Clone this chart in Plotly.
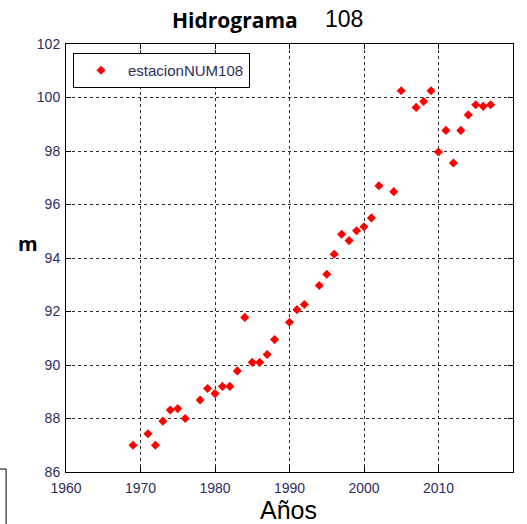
import plotly.graph_objects as go

# Annual water level at station 108
years = [1969, 1971, 1972, 1973, 1974, 1975, 1976, 1978, 1979, 1980,
         1981, 1982, 1983, 1984, 1985, 1986, 1987, 1988, 1990, 1991,
         1992, 1994, 1995, 1996, 1997, 1998, 1999, 2000, 2001, 2002,
         2004, 2005, 2007, 2008, 2009, 2010, 2011, 2012, 2013, 2014,
         2015, 2016, 2017]
levels = [87.00, 87.43, 87.00, 87.90, 88.32, 88.37, 88.00, 88.69, 89.12, 88.93,
          89.20, 89.20, 89.78, 91.78, 90.10, 90.10, 90.39, 90.95, 91.60, 92.07,
          92.26, 92.97, 93.39, 94.14, 94.89, 94.65, 95.02, 95.17, 95.50, 96.70,
          96.48, 100.25, 99.63, 99.85, 100.25, 97.96, 98.77, 97.55, 98.77, 99.35,
          99.73, 99.67, 99.73]

x_ticks = [1960, 1970, 1980, 1990, 2000, 2010, 2020]
y_ticks = [86, 88, 90, 92, 94, 96, 98, 100, 102]

narrow = "Liberation Sans Narrow, Liberation Sans, Arial"
tick_font = dict(family=narrow, size=14, color="#2e2e5c")

fig = go.Figure()
fig.add_trace(go.Scatter(
    x=years, y=levels, mode="markers", name="estacionNUM108",
    marker=dict(symbol="diamond", size=7, color="#ff0000", line=dict(width=0)),
))

axis_common = dict(
    showline=True, linecolor="#000000", linewidth=1, mirror="ticks",
    ticks="inside", ticklen=5, tickcolor="#000000",
    showgrid=True, gridcolor="#2a2a2a", gridwidth=1, griddash="3px,3px",
    zeroline=False, tickfont=tick_font,
)

fig.update_xaxes(range=[1960, 2020], tickvals=x_ticks, ticklabelstandoff=3, **axis_common)
fig.update_yaxes(range=[86, 102], tickvals=y_ticks, ticklabelstandoff=2, **axis_common)

fig.update_layout(
    width=527, height=524,
    margin=dict(l=66, r=14, t=44, b=52),
    paper_bgcolor="#ffffff", plot_bgcolor="#ffffff",
    showlegend=True,
    legend=dict(
        x=0.0157, y=0.979, xanchor="left", yanchor="top",
        bgcolor="#ffffff", bordercolor="#000000", borderwidth=1,
        itemwidth=44,
        font=dict(family=narrow, size=15, color="#2e2e5c"),
    ),
    annotations=[
        dict(text="<b>Hidrograma</b>", x=0.378, y=1.056, xref="paper", yref="paper",
             showarrow=False, xanchor="center", yanchor="middle",
             font=dict(family="Open Sans", size=21, color="#000000")),
        dict(text="108", x=0.622, y=1.058, xref="paper", yref="paper",
             showarrow=False, xanchor="center", yanchor="middle",
             font=dict(family=narrow, size=23, color="#000000")),
        dict(text="<b>m</b>", x=-0.085, y=0.535, xref="paper", yref="paper",
             showarrow=False, xanchor="center", yanchor="middle",
             font=dict(family="Open Sans", size=20, color="#000000")),
        dict(text="Años", x=0.497, y=-0.089, xref="paper", yref="paper",
             showarrow=False, xanchor="center", yanchor="middle",
             font=dict(family=narrow, size=25, color="#000000")),
    ],
    shapes=[
        dict(type="line", xref="paper", yref="paper", x0=-0.148, x1=-0.134, y0=0.007, y1=0.007,
             line=dict(color="#000000", width=1)),
        dict(type="line", xref="paper", yref="paper", x0=-0.134, x1=-0.134, y0=0.007, y1=-0.125,
             line=dict(color="#000000", width=1)),
    ],
)

fig.write_html("out.html")
